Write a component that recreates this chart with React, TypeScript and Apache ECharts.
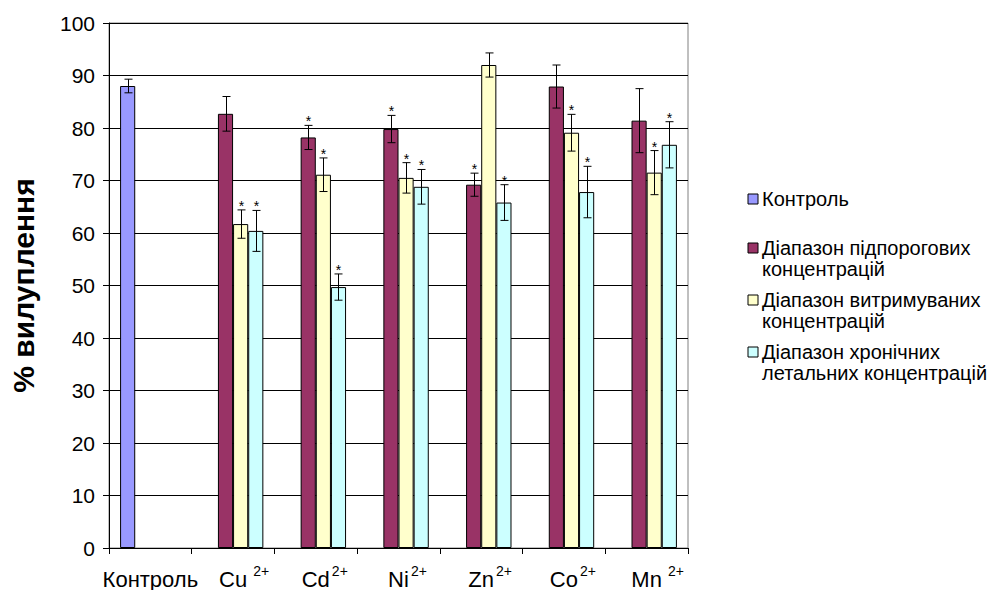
import React, { useEffect, useRef } from "react";
import * as echarts from "echarts";

const categories = ["Контроль", "Cu", "Cd", "Ni", "Zn", "Co", "Mn"];
const supGap = [0, 1, 0, 0, 0, 0, 1];

const seriesNames = [
  "Контроль",
  "Діапазон підпорогових концентрацій",
  "Діапазон витримуваних концентрацій",
  "Діапазон хронічних летальних концентрацій",
];
const legendLines = [
  "Контроль",
  "Діапазон підпорогових\nконцентрацій",
  "Діапазон витримуваних\nконцентрацій",
  "Діапазон хронічних\nлетальних концентрацій",
];
const colors = ["#9999FF", "#993366", "#FFFFCC", "#CCFFFF"];

const control = [88.0, null, null, null, null, null, null];
const controlErr = [1.3, null, null, null, null, null, null];
const controlStar = [0, 0, 0, 0, 0, 0, 0];

const subThreshold = [null, 82.7, 78.2, 79.8, 69.2, 87.9, 81.4];
const subThresholdErr = [null, 3.3, 2.3, 2.6, 2.2, 4.1, 6.1];
const subThresholdStar = [0, 0, 1, 1, 1, 0, 0];

const tolerated = [null, 61.7, 71.1, 70.5, 92.0, 79.1, 71.5];
const toleratedErr = [null, 2.7, 3.2, 2.9, 2.3, 3.5, 4.2];
const toleratedStar = [0, 1, 1, 1, 0, 1, 1];

const chronic = [null, 60.4, 49.7, 68.8, 65.8, 67.8, 76.8];
const chronicErr = [null, 3.9, 2.5, 3.3, 3.4, 4.9, 4.4];
const chronicStar = [0, 1, 1, 1, 1, 1, 1];

const yTicks = { min: 0, max: 100, interval: 10 };

const FONT = "'Liberation Sans', Arial, sans-serif";
const GAP = 0.268;

export default function App() {
  const ref = useRef<HTMLDivElement>(null);
  useEffect(() => {
    if (!ref.current) return;
    const chart = echarts.init(ref.current, null, { renderer: "svg" });

    const values = [control, subThreshold, tolerated, chronic];
    const errs = [controlErr, subThresholdErr, toleratedErr, chronicErr];
    const stars = [controlStar, subThresholdStar, toleratedStar, chronicStar];

    const errData: any[] = [];
    values.forEach((arr, s) => {
      arr.forEach((v, c) => {
        if (v != null && errs[s][c] != null) {
          errData.push([c, v, errs[s][c], s, stars[s][c]]);
        }
      });
    });

    const barSeries = values.map((arr, i) => ({
      name: seriesNames[i],
      type: "bar",
      data: arr.map((v) => (v == null ? "-" : v)),
      barGap: "0%",
      barCategoryGap: GAP * 100 + "%",
      itemStyle: { color: colors[i], borderColor: "#000", borderWidth: 1 },
      silent: true,
    }));

    const legendGraphics: any[] = [];
    const centers = [199, 248, 300, 352];
    legendLines.forEach((t, i) => {
      legendGraphics.push({
        type: "rect",
        shape: { x: 748, y: centers[i] - 5, width: 10, height: 10 },
        style: { fill: colors[i], stroke: "#000", lineWidth: 1 },
      });
      legendGraphics.push({
        type: "text",
        x: 762,
        y: centers[i] - 10.5,
        style: {
          text: t,
          fontSize: 20,
          fontFamily: FONT,
          fill: "#000",
          lineHeight: 21,
          verticalAlign: "top",
          align: "left",
        },
      });
    });

    chart.setOption({
      animation: false,
      textStyle: { fontFamily: FONT },
      grid: {
        left: 102,
        right: 304,
        top: 23,
        bottom: 42,
        show: true,
        borderColor: "#808080",
        borderWidth: 1,
        backgroundColor: "#fff",
      },
      xAxis: {
        type: "category",
        data: categories,
        axisLine: { lineStyle: { color: "#000", width: 1 } },
        axisTick: { show: true, interval: 0, length: 6, lineStyle: { color: "#000" } },
        axisLabel: {
          interval: 0,
          margin: 16,
          formatter: (val: string, idx: number) => {
            if (idx === 0) return "{b|" + val + "}";
            const g = supGap[idx] ? "A" : "B";
            return "{pad" + g + "|}{b|" + val + "}{sup" + g + "|2+}";
          },
          rich: {
            b: { fontSize: 22, lineHeight: 30, color: "#000", fontFamily: FONT },
            padA: { width: 22, lineHeight: 30 },
            padB: { width: 18, lineHeight: 30 },
            supA: {
              fontSize: 14,
              lineHeight: 14,
              verticalAlign: "top",
              color: "#000",
              fontFamily: FONT,
              padding: [0, 0, 0, 6],
              width: 16,
            },
            supB: {
              fontSize: 14,
              lineHeight: 14,
              verticalAlign: "top",
              color: "#000",
              fontFamily: FONT,
              padding: [0, 0, 0, 2],
              width: 16,
            },
          },
        },
        splitLine: { show: false },
      },
      yAxis: {
        type: "value",
        min: yTicks.min,
        max: yTicks.max,
        interval: yTicks.interval,
        name: "% вилуплення",
        nameLocation: "middle",
        nameGap: 71,
        nameRotate: 90,
        nameTextStyle: { fontSize: 30, fontWeight: "bold", color: "#000", fontFamily: FONT },
        axisLine: { show: true, lineStyle: { color: "#000", width: 1 } },
        axisTick: { show: true, length: 6, lineStyle: { color: "#000" } },
        axisLabel: { fontSize: 21, color: "#000", margin: 14, fontFamily: FONT },
        splitLine: { show: true, lineStyle: { color: "#000", width: 1 } },
      },
      series: [
        ...barSeries,
        {
          type: "custom",
          name: "err",
          silent: true,
          encode: { x: 0, y: 1 },
          data: errData,
          z: 5,
          renderItem: (params: any, api: any) => {
            const cat = api.value(0);
            const val = api.value(1);
            const err = api.value(2);
            const slot = api.value(3);
            const star = api.value(4);
            const base = api.coord([cat, 0]);
            const bw = api.size([1, 0])[0];
            const barW = (bw * (1 - GAP)) / 4;
            const x = Math.round(base[0] - 2 * barW + (slot + 0.5) * barW) + 0.5;
            const yT = api.coord([cat, val + err])[1];
            const yB = api.coord([cat, val - err])[1];
            const ls = { stroke: "#000", lineWidth: 1 };
            const children: any[] = [
              { type: "line", shape: { x1: x, y1: yT, x2: x, y2: yB }, style: ls },
              { type: "line", shape: { x1: x - 4, y1: yT, x2: x + 4, y2: yT }, style: ls },
              { type: "line", shape: { x1: x - 4, y1: yB, x2: x + 4, y2: yB }, style: ls },
            ];
            if (star) {
              children.push({
                type: "text",
                style: {
                  text: "*",
                  x: x,
                  y: yT + 3,
                  align: "center",
                  verticalAlign: "bottom",
                  fontSize: 14,
                  fontFamily: FONT,
                  fill: "#000",
                },
              });
            }
            return { type: "group", children };
          },
        },
      ],
      graphic: legendGraphics,
    });

    return () => chart.dispose();
  }, []);

  return (
    <div
      ref={ref}
      style={{ position: "fixed", left: 0, top: 0, width: 992, height: 590, background: "#fff" }}
    />
  );
}
